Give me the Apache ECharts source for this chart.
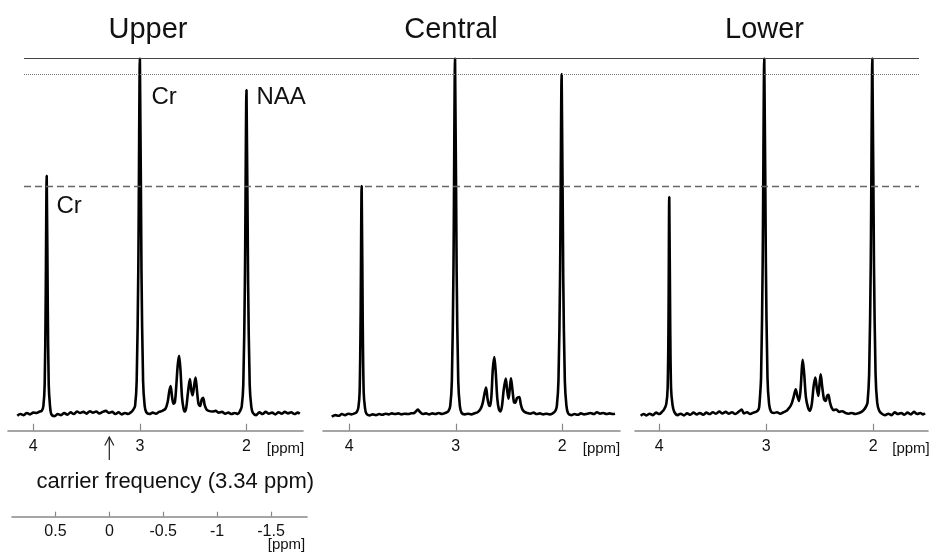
<!DOCTYPE html>
<html>
<head>
<meta charset="utf-8">
<style>
  html, body { margin: 0; padding: 0; background: #fff; }
  #chart { width: 932px; height: 555px; }
</style>
<script src="https://cdn.jsdelivr.net/npm/echarts@6/dist/echarts.min.js"></script>
</head>
<body>
<div id="chart"></div>
<script>
// Chemical shift (ppm) and signal intensity (Cr = 100) for each spectrum
const upperPpm = [4.15, 4.12, 4.09, 4.06, 4.03, 4.00, 3.97, 3.94, 3.92, 3.905, 3.893, 3.884, 3.874, 3.864, 3.855, 3.843, 3.83, 3.80, 3.77, 3.74, 3.71, 3.68, 3.65, 3.62, 3.59, 3.56, 3.53, 3.50, 3.47, 3.44, 3.41, 3.38, 3.35, 3.32, 3.29, 3.26, 3.23, 3.20, 3.17, 3.14, 3.11, 3.08, 3.06, 3.045, 3.03, 3.015, 3.0, 2.985, 2.97, 2.955, 2.94, 2.91, 2.88, 2.85, 2.82, 2.79, 2.76, 2.74, 2.725, 2.712, 2.698, 2.685, 2.672, 2.66, 2.645, 2.632, 2.619, 2.605, 2.59, 2.578, 2.565, 2.55, 2.531, 2.518, 2.506, 2.492, 2.478, 2.465, 2.45, 2.435, 2.42, 2.407, 2.392, 2.375, 2.355, 2.32, 2.29, 2.26, 2.23, 2.20, 2.17, 2.14, 2.11, 2.08, 2.06, 2.045, 2.03, 2.015, 2.0, 1.985, 1.97, 1.955, 1.94, 1.91, 1.88, 1.85, 1.82, 1.79, 1.76, 1.73, 1.70, 1.67, 1.64, 1.61, 1.58, 1.55, 1.52, 1.50];
const upperInt = [-0.8, -0.3, -0.6, 0.0, -0.4, 0.1, 0.0, 0.4, 0.6, 2.0, 8, 30, 66.9, 30, 8, 2.0, -0.4, -0.9, -0.3, -0.6, 0.0, -0.5, 0.2, -0.3, 0.4, 0.0, 0.3, -0.2, 0.5, 0.1, 0.4, -0.1, 0.3, 0.6, 0.0, 0.3, -0.3, 0.2, -0.4, 0.0, -0.3, 0.3, 1.0, 2.0, 9, 40, 100, 40, 9, 2.0, 0.2, -0.3, 0.1, -0.2, 0.3, 0.6, 1.2, 3.0, 6.0, 7.6, 4.5, 2.6, 3.0, 7, 13.5, 16.1, 12, 4.5, 1.2, 0.4, 1.5, 5.5, 9.6, 6.5, 5.0, 7.5, 10.0, 6.5, 2.5, 2.0, 3.8, 4.3, 2.2, 1.0, 0.6, 0.4, 0.6, 0.1, 0.3, -0.2, 0.1, -0.3, 0.0, -0.3, 0.6, 1.8, 8, 37, 91.1, 37, 8, 1.8, 0.0, -0.6, 0.2, -0.3, 0.3, -0.2, 0.1, -0.4, 0.2, -0.2, 0.3, -0.1, 0.2, -0.3, 0.1, -0.2];

const centralPpm = [4.165, 4.13, 4.10, 4.07, 4.04, 4.01, 3.98, 3.95, 3.93, 3.915, 3.903, 3.894, 3.884, 3.874, 3.865, 3.853, 3.84, 3.81, 3.78, 3.75, 3.72, 3.69, 3.66, 3.63, 3.60, 3.57, 3.54, 3.51, 3.48, 3.45, 3.42, 3.39, 3.37, 3.355, 3.34, 3.31, 3.28, 3.25, 3.22, 3.19, 3.16, 3.13, 3.10, 3.07, 3.052, 3.037, 3.022, 3.007, 2.992, 2.977, 2.962, 2.945, 2.915, 2.885, 2.855, 2.825, 2.795, 2.77, 2.75, 2.73, 2.716, 2.702, 2.688, 2.677, 2.665, 2.652, 2.638, 2.625, 2.61, 2.595, 2.58, 2.566, 2.55, 2.531, 2.518, 2.505, 2.494, 2.482, 2.468, 2.453, 2.44, 2.425, 2.404, 2.39, 2.375, 2.355, 2.33, 2.30, 2.27, 2.24, 2.21, 2.18, 2.15, 2.12, 2.09, 2.065, 2.051, 2.036, 2.021, 2.006, 1.991, 1.976, 1.961, 1.945, 1.915, 1.885, 1.855, 1.825, 1.795, 1.765, 1.735, 1.705, 1.675, 1.645, 1.615, 1.585, 1.555, 1.525, 1.505];
const centralInt = [-1.0, -0.6, -0.8, -0.3, -0.6, -0.2, -0.4, -0.1, 0.3, 1.5, 6, 26, 64.0, 26, 6, 1.5, -0.2, -0.7, -0.4, -0.6, -0.3, -0.5, -0.2, -0.4, -0.1, -0.3, -0.1, -0.4, -0.2, -0.3, -0.1, 0.0, 0.6, 1.0, 0.4, -0.3, -0.1, -0.4, -0.1, -0.3, 0.0, -0.3, 0.0, 0.5, 2.0, 9, 40, 100, 40, 9, 2.0, 0.0, -0.4, -0.2, -0.4, -0.1, 0.2, 1.0, 2.5, 5.5, 7.2, 4.0, 2.2, 2.0, 5.0, 12.5, 15.8, 11.5, 4.0, 1.0, 0.4, 2.0, 6.5, 9.7, 6.5, 4.0, 6.5, 9.8, 6.5, 3.0, 2.9, 4.2, 4.5, 2.5, 1.0, 0.3, 0.0, -0.2, 0.1, -0.3, -0.1, -0.4, -0.2, -0.4, -0.1, 0.6, 2.0, 9, 38, 95.6, 38, 9, 2.0, -0.1, -0.6, -0.3, -0.5, -0.1, -0.4, -0.2, 0.0, -0.3, 0.2, -0.2, 0.0, -0.3, -0.1, -0.3, -0.2];

const lowerPpm = [4.174, 4.145, 4.12, 4.09, 4.06, 4.03, 4.00, 3.975, 3.955, 3.935, 3.922, 3.914, 3.907, 3.898, 3.89, 3.876, 3.86, 3.83, 3.80, 3.77, 3.74, 3.71, 3.68, 3.65, 3.62, 3.59, 3.56, 3.53, 3.50, 3.47, 3.44, 3.41, 3.38, 3.35, 3.32, 3.29, 3.26, 3.23, 3.21, 3.18, 3.15, 3.12, 3.09, 3.07, 3.064, 3.049, 3.034, 3.019, 3.004, 2.989, 2.974, 2.955, 2.93, 2.90, 2.87, 2.84, 2.81, 2.785, 2.765, 2.745, 2.725, 2.71, 2.694, 2.68, 2.668, 2.66, 2.646, 2.63, 2.61, 2.592, 2.575, 2.558, 2.542, 2.528, 2.514, 2.503, 2.492, 2.478, 2.46, 2.445, 2.432, 2.42, 2.405, 2.39, 2.37, 2.345, 2.32, 2.29, 2.26, 2.23, 2.20, 2.17, 2.14, 2.11, 2.085, 2.065, 2.054, 2.039, 2.024, 2.009, 1.994, 1.979, 1.964, 1.945, 1.92, 1.89, 1.86, 1.83, 1.80, 1.77, 1.74, 1.71, 1.68, 1.65, 1.62, 1.59, 1.56, 1.535, 1.517];
const lowerInt = [-0.8, -0.3, -0.7, -0.2, -0.6, 0.1, -0.3, 0.3, 1.0, 2.5, 7, 25, 60.9, 25, 7, 2.2, 0.3, -0.6, -0.2, -0.7, -0.1, -0.5, 0.1, -0.4, 0.0, -0.5, 0.1, -0.3, 0.2, -0.2, 0.4, -0.1, 0.3, -0.2, 0.2, -0.3, 0.3, 1.0, -0.1, 0.2, -0.3, 0.1, 0.4, 1.2, 2.5, 10, 42, 100, 42, 10, 2.5, 0.3, 0.0, 0.2, -0.2, 0.2, 0.6, 1.5, 2.5, 4.5, 6.7, 4.8, 3.4, 6.5, 12.5, 15.0, 11, 4.5, 1.5, 0.6, 2.5, 7.5, 10.0, 7.0, 4.8, 8, 10.9, 7.5, 3.8, 3.4, 4.8, 5.1, 3.0, 1.5, 0.8, 1.0, 0.3, 0.5, 0.0, -0.2, 0.0, -0.3, -0.1, 0.3, 1.0, 2.0, 3.0, 11, 42, 100, 42, 11, 3.0, 0.6, -0.2, -0.6, -0.2, -0.6, 0.2, -0.3, 0.0, -0.5, 0.1, -0.4, 0.3, -0.3, 0.0, -0.4, -0.1];

// Panel titles, axis ticks and reference levels
const panelTitles = ['Upper', 'Central', 'Lower'];
const ppmTicks = [4, 3, 2];
const offsetTicks = [0.5, 0, -0.5, -1, -1.5];
const refLevels = [100, 95.6, 64.0];   // Cr (all), NAA (Central), Cr 3.9 ppm (Central)
const carrierPpm = 3.34;

const FONT = '"Liberation Sans", Arial, Helvetica, sans-serif';
const zip = (xs, ys) => xs.map((x, i) => [x, ys[i]]);

const panels = [
  { left: 8,   right: 629, min: 1.47,  max: 4.237, data: zip(upperPpm, upperInt) },
  { left: 323, right: 312, min: 1.458, max: 4.247, data: zip(centralPpm, centralInt) },
  { left: 635, right: 4,   min: 1.489, max: 4.227, data: zip(lowerPpm, lowerInt) }
];

const TOP = 58.5, BOTTOM = 124.3;
const grids = [], xAxes = [], yAxes = [], series = [];

panels.forEach((p, i) => {
  grids.push({ left: p.left, right: p.right, top: TOP, bottom: BOTTOM });
  xAxes.push({
    type: 'value', gridIndex: i, min: p.min, max: p.max, inverse: true,
    splitLine: { show: false },
    axisLine: { onZero: false, lineStyle: { color: '#888', width: 1.6 } },
    axisTick: { inside: true, length: 7, customValues: ppmTicks, lineStyle: { color: '#888', width: 1.2 } },
    axisLabel: { customValues: ppmTicks, color: '#111', fontSize: 16, fontFamily: FONT, margin: 8 }
  });
  yAxes.push({ type: 'value', gridIndex: i, min: -5, max: 100, show: false });
  series.push({
    type: 'line', xAxisIndex: i, yAxisIndex: i, data: p.data,
    showSymbol: false, smooth: 0.3, clip: false, silent: true,
    lineStyle: { color: '#000', width: 2.6 }, z: 3
  });
});

// Grid spanning all panels for the horizontal reference levels
grids.push({ left: 24, right: 13, top: TOP, bottom: BOTTOM });
xAxes.push({ type: 'value', gridIndex: 3, min: 0, max: 1, show: false });
yAxes.push({ type: 'value', gridIndex: 3, min: -5, max: 100, show: false });
series.push({
  type: 'line', xAxisIndex: 3, yAxisIndex: 3, data: [], silent: true, z: 1,
  markLine: {
    symbol: 'none', silent: true, label: { show: false }, animation: false,
    data: [
      { yAxis: refLevels[0], lineStyle: { color: '#444', width: 1, type: 'solid' } },
      { yAxis: refLevels[1], lineStyle: { color: '#777', width: 1, type: 'dotted' } },
      { yAxis: refLevels[2], lineStyle: { color: '#666', width: 1.3, type: [7, 4] } }
    ]
  }
});

// Offset axis relative to the carrier frequency
grids.push({ left: 12, right: 625, top: 480, bottom: 38.3 });
xAxes.push({
  type: 'value', gridIndex: 4, min: -1.834, max: 0.903, inverse: true,
  splitLine: { show: false },
  axisLine: { onZero: false, lineStyle: { color: '#888', width: 1.6 } },
  axisTick: { inside: true, length: 5, customValues: offsetTicks, lineStyle: { color: '#888', width: 1.2 } },
  axisLabel: { customValues: offsetTicks, color: '#111', fontSize: 16, fontFamily: FONT, margin: 7 }
});
yAxes.push({ type: 'value', gridIndex: 4, min: 0, max: 1, show: false });

const txt = (text, x, y, size, align) => ({
  type: 'text', silent: true,
  style: { text, x, y, fill: '#111', font: size + 'px ' + FONT, textAlign: align || 'left', textVerticalAlign: 'middle' }
});

const chart = echarts.init(document.getElementById('chart'));
chart.setOption({
  animation: false,
  backgroundColor: '#fff',
  grid: grids, xAxis: xAxes, yAxis: yAxes, series,
  graphic: [
    txt(panelTitles[0], 148, 30, 29, 'center'),
    txt(panelTitles[1], 451, 30, 29, 'center'),
    txt(panelTitles[2], 764.5, 30, 29, 'center'),
    txt('Cr', 151.5, 97, 24),
    txt('NAA', 256.5, 97, 24),
    txt('Cr', 56.5, 206, 24),
    txt('[ppm]', 285.5, 449, 15, 'center'),
    txt('[ppm]', 601.5, 449, 15, 'center'),
    txt('[ppm]', 911, 449, 15, 'center'),
    txt('[ppm]', 286.5, 545, 15, 'center'),
    txt('carrier frequency (' + carrierPpm.toFixed(2) + ' ppm)', 36.5, 482, 22),
    { type: 'line', silent: true, shape: { x1: 109.3, y1: 460, x2: 109.3, y2: 437 }, style: { stroke: '#222', lineWidth: 1.2 } },
    { type: 'polyline', silent: true, shape: { points: [[104.8, 445.5], [109.3, 437], [113.8, 445.5]] }, style: { stroke: '#222', lineWidth: 1.2, fill: null } }
  ]
});
</script>
</body>
</html>
